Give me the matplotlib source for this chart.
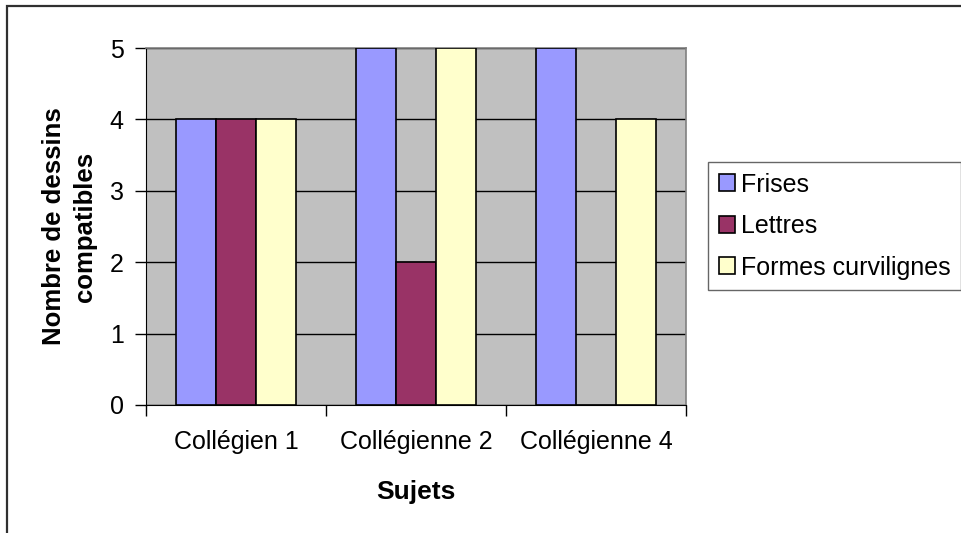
import matplotlib
matplotlib.use("Agg")
import matplotlib.pyplot as plt
from matplotlib.patches import Rectangle, Patch
import numpy as np

plt.rcParams['font.family'] = ['Liberation Sans', 'DejaVu Sans']

categories = ["Collégien 1", "Collégienne 2", "Collégienne 4"]
series_names = ["Frises", "Lettres", "Formes curvilignes"]
frises = [4, 5, 5]
lettres = [4, 2, 0]
formes = [4, 5, 4]
yticks = [0, 1, 2, 3, 4, 5]
colors = ["#9999FF", "#993366", "#FFFFCC"]

W, H = 961, 533
fig = plt.figure(figsize=(W / 100, H / 100), dpi=100)
fig.patch.set_facecolor("white")

# chart-area frame (top and left edges visible)
fig.add_artist(Rectangle((7 / W, -0.1), 1.2, 1 - 6 / H + 0.1, transform=fig.transFigure,
                         fill=False, edgecolor="#303030", linewidth=1.6))

ax = fig.add_axes([146 / W, 1 - 405 / H, (686 - 146) / W, (405 - 48) / H])
ax.set_facecolor("#C0C0C0")

x = np.arange(len(categories))
bw = 1 / 4.5
for i, (vals, name) in enumerate(zip([frises, lettres, formes], series_names)):
    ax.bar(x + (i - 1) * bw, vals, width=bw, color=colors[i], edgecolor="black",
           linewidth=1.2, label=name, zorder=3)

ax.set_xlim(-0.5, len(categories) - 0.5)
ax.set_ylim(0, 5)
ax.set_yticks(yticks)
ax.yaxis.grid(True, color="black", linewidth=1.0, zorder=1)
ax.set_axisbelow(True)

ax.set_xticks(x)
ax.set_xticklabels(categories, fontsize=18)
ax.tick_params(axis="x", length=0, pad=18)
ax.set_xticks(np.arange(len(categories) + 1) - 0.5, minor=True)
ax.tick_params(axis="x", which="minor", length=8, width=1, color="black", direction="out")
ax.tick_params(axis="y", length=8, width=1, color="black", labelsize=18, pad=8)

for s in ["top", "right"]:
    ax.spines[s].set_color("#808080")
    ax.spines[s].set_linewidth(1.2)
ax.spines["left"].set_color("black")
ax.spines["bottom"].set_color("black")

ax.set_xlabel("Sujets", fontsize=19, fontweight="bold", labelpad=19)
ax.set_ylabel("Nombre de dessins\ncompatibles", fontsize=18.5, fontweight="bold",
              labelpad=9, linespacing=1.4)

handles = [Patch(facecolor=c, edgecolor="black", linewidth=1.2) for c in colors]
leg = fig.legend(handles, series_names, loc="upper left",
                 bbox_to_anchor=(708 / W, 1 - 162 / H), fontsize=18,
                 frameon=True, fancybox=False, edgecolor="#404040",
                 handlelength=0.65, handleheight=0.65, handletextpad=0.25,
                 labelspacing=0.7, borderpad=0.42, borderaxespad=0)
leg.get_frame().set_linewidth(1.0)

fig.savefig("out.png", dpi=100, facecolor="white")
